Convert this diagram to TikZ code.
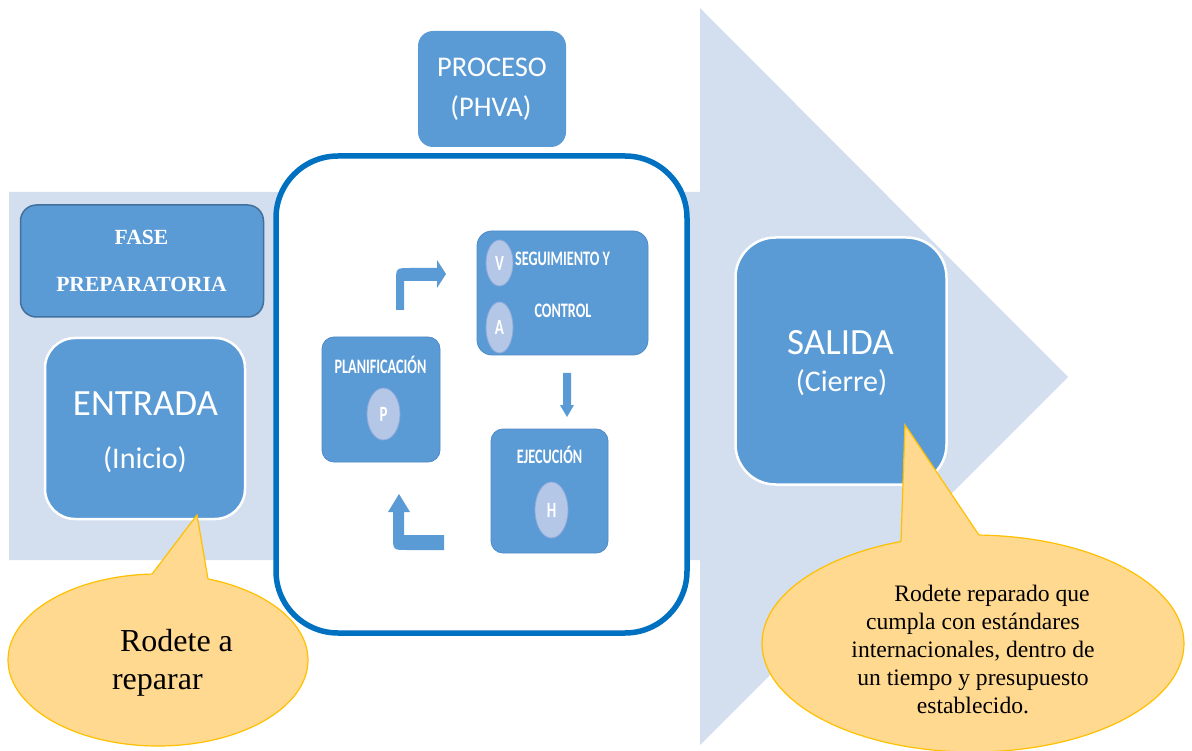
\documentclass[tikz,border=0pt]{standalone}
\usepackage{fontspec}
\setmainfont{Liberation Serif}
\newfontfamily\calibri{Carlito}
\usetikzlibrary{shapes.geometric}
\definecolor{boxblue}{HTML}{5B9BD5}
\definecolor{lightarrow}{HTML}{D3DEEF}
\definecolor{frameblue}{HTML}{0070C0}
\definecolor{fasedge}{HTML}{41719C}
\definecolor{circfill}{HTML}{B4C7E7}
\definecolor{circedge}{HTML}{8FAADC}
\definecolor{callfill}{HTML}{FFD98F}
\definecolor{calledge}{HTML}{FFC000}
\definecolor{inneredge}{HTML}{4E8AC8}
\newcommand{\tallc}[1]{\scalebox{1}[1.45]{#1}}
\begin{document}
\begin{tikzpicture}[x=1pt,y=-1pt,
  bigbox/.style={rectangle, fill=boxblue, draw=white, line width=2.5pt, inner sep=0pt},
  smallbox/.style={rectangle, fill=boxblue, draw=inneredge, line width=0.8pt, inner sep=0pt},
  bigtxt/.style={text=white, font=\calibri\fontsize{37}{40}\selectfont, inner sep=0pt},
  subtxt/.style={text=white, font=\calibri\fontsize{30}{34}\selectfont, inner sep=0pt},
  proctxt/.style={text=white, font=\calibri\fontsize{28.5}{32}\selectfont, inner sep=0pt},
  condtxt/.style={text=white, font=\calibri\bfseries\fontsize{14.2}{16}\selectfont, inner sep=0pt, anchor=base},
  letter/.style={ellipse, fill=circfill, draw=circedge, line width=0.8pt, inner sep=0pt, text=white, font=\calibri\bfseries\fontsize{15}{17}\selectfont},
  cycarrow/.style={fill=boxblue},
  callout/.style={ellipse, fill=callfill, draw=calledge, line width=1.2pt, inner sep=0pt},
  callside/.style={draw=calledge, line width=1.2pt},
]
\useasboundingbox (0,0) rectangle (1192,751);
% big background arrow
\fill[lightarrow] (9,192) -- (700,192) -- (700,8) -- (1068,377) -- (700,745) -- (700,560) -- (9,560) -- cycle;

% process frame
\node[rectangle, draw=frameblue, line width=5.5pt, fill=white, rounded corners=62pt,
      minimum width=411pt, minimum height=477pt] (frame) at (481.5,394.5) {};

% PROCESO box
\node[bigbox, draw=none, rounded corners=15pt, minimum width=148pt, minimum height=116pt] (proceso) at (492,89) {};
\node[proctxt] (procesoA) at (492,67) {PROCESO};
\node[proctxt] (procesoB) at (491,108) {(PHVA)};

% FASE PREPARATORIA
\node[bigbox, draw=fasedge, line width=1.5pt, rounded corners=16pt, minimum width=243pt, minimum height=112pt] (fase) at (142,261) {};
\node[text=white, font=\bfseries\fontsize{21.6}{47}\selectfont, align=center, inner sep=0pt] (fasetxt) at (141.5,260.5) {FASE\\PREPARATORIA};

% ENTRADA
\node[bigbox, rounded corners=30pt, minimum width=200pt, minimum height=181pt] (entrada) at (145,428.5) {};
\node[bigtxt] (entradaA) at (145.5,404) {ENTRADA};
\node[subtxt] (entradaB) at (145,460) {(Inicio)};

% SALIDA
\node[bigbox, rounded corners=40pt, minimum width=211pt, minimum height=247pt] (salida) at (841,361) {};
\node[bigtxt] (salidaA) at (840.5,343) {SALIDA};
\node[subtxt] (salidaB) at (841.5,383) {(Cierre)};

% PHVA cycle boxes
\node[smallbox, rounded corners=12pt, minimum width=118pt, minimum height=125pt] (plan) at (381,399.5) {};
\node[condtxt] (planA) at (380.5,373.5) {\tallc{PLANIFICACIÓN}};
\node[letter, minimum width=33pt, minimum height=52pt] (P) at (383.5,414) {\tallc{P}};

\node[smallbox, rounded corners=15pt, minimum width=171pt, minimum height=124pt] (segui) at (562.5,293) {};
\node[condtxt] (seguiA) at (562.5,265.5) {\tallc{SEGUIMIENTO Y}};
\node[condtxt] (seguiB) at (563,317.5) {\tallc{CONTROL}};
\node[letter, minimum width=27pt, minimum height=46pt] (V) at (499.5,263) {\tallc{V}};
\node[letter, minimum width=27pt, minimum height=51pt] (A) at (499.5,327.5) {\tallc{A}};

\node[smallbox, rounded corners=12pt, minimum width=117pt, minimum height=124pt] (ejec) at (549.5,491) {};
\node[condtxt] (ejecA) at (549.5,463.5) {\tallc{EJECUCIÓN}};
\node[letter, minimum width=33pt, minimum height=56pt] (H) at (551.5,510) {\tallc{H}};

% cycle arrows
\fill[cycarrow] (396,310) -- (396,282) .. controls (396,268) .. (410,268) -- (437,268) -- (437,260)
  -- (446,274) -- (437,288) -- (437,281) -- (404,281) -- (404,310) -- cycle;
\fill[cycarrow] (563,373) -- (571,373) -- (571,405) -- (574,405) -- (567,417) -- (560,405) -- (563,405) -- cycle;
\fill[cycarrow] (444,535) -- (404,535) -- (404,512) -- (410,512) -- (399,494) -- (388,512) -- (393,512)
  -- (393,536) .. controls (393,550) .. (407,550) -- (444,550) -- cycle;

% left callout
\node[callout, minimum width=300pt, minimum height=172pt] (callA) at (158,660) {};
\coordinate (tipA) at (197,515);
\fill[callfill] (tipA) -- (148.4,578.7) -- (208.9,584.1) -- cycle;
\draw[callside] (152,574.1) -- (tipA) -- (208,578.9);
\node[font=\fontsize{32}{38}\selectfont, align=left, inner sep=0pt] (callAtxt) at (172.5,663) {\hspace*{8pt}Rodete a\\reparar};

% right callout
\node[callout, minimum width=422pt, minimum height=217pt] (callB) at (973,643.5) {};
\coordinate (tipB) at (905,425);
\fill[callfill] (tipB) -- (900.8,548.5) -- (983.4,541.6) -- cycle;
\draw[callside] (901,541.5) -- (tipB) -- (979,535.1);
\node[font=\fontsize{23.6}{28}\selectfont, align=center, inner sep=0pt] (callBtxt) at (973,649.5)
  {\hspace*{38pt}Rodete reparado que\\cumpla con estándares\\internacionales, dentro de\\un tiempo y presupuesto\\establecido.};
\end{tikzpicture}
\end{document}
